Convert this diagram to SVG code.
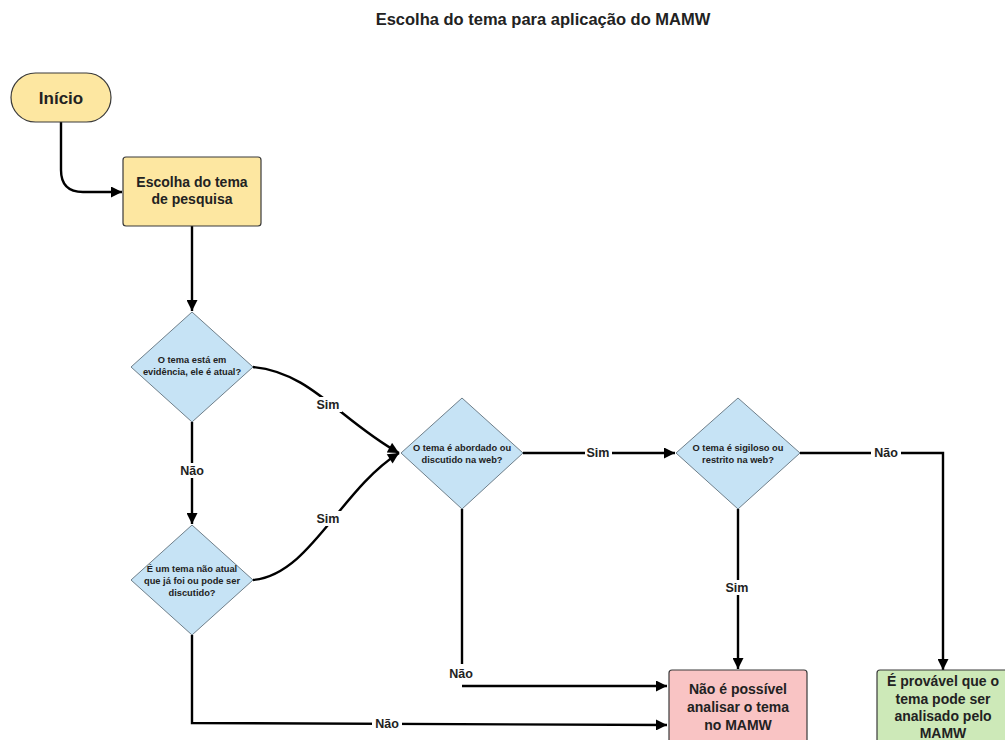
<svg xmlns="http://www.w3.org/2000/svg" width="1005" height="740" viewBox="0 0 1005 740">
<defs>
<style>
text{font-family:"Liberation Sans",Arial,sans-serif;font-weight:bold;fill:#222;text-anchor:middle}
.title{font-size:16.5px}
.big{font-size:17px}
.box{font-size:14px}
.dia{font-size:9.3px}
.lbl{font-size:12.5px}
.yellow{fill:#fde7a1;stroke:#3a3a3a;stroke-width:1.2}
.blue{fill:#c6e3f5;stroke:#6f7f8a;stroke-width:1}
.red{fill:#f9c4c4;stroke:#3a3a3a;stroke-width:1.2}
.green{fill:#cde9b8;stroke:#3a3a3a;stroke-width:1.2}
.edge{fill:none;stroke:#000;stroke-width:2.4}
.lblbg{fill:#fff}
</style>
<marker id="arrL" viewBox="0 0 10 10" refX="10" refY="5" markerWidth="14" markerHeight="11" orient="auto" markerUnits="userSpaceOnUse">
<path d="M0,0 L10,5 L0,10 z" fill="#000"/>
</marker>
</defs>
<rect width="1005" height="740" fill="#fff"/>
<text class="title" x="543" y="25">Escolha do tema para aplicação do MAMW</text>

<g id="connectors">
<path class="edge" d="M61,122 L61,170 Q61,192 83,192 L122,192" marker-end="url(#arrL)"/>
<path class="edge" d="M192,226 L192,311" marker-end="url(#arrL)"/>
<path class="edge" d="M192,422 L192,524" marker-end="url(#arrL)"/>
<path class="edge" d="M253,367 C310,372 340,420 399,453" marker-end="url(#arrL)"/>
<path class="edge" d="M253,580 C310,575 340,490 399,453" marker-end="url(#arrL)"/>
<path class="edge" d="M523,453 L675,453" marker-end="url(#arrL)"/>
<path class="edge" d="M800,453 L943,453 L943,670" marker-end="url(#arrL)"/>
<path class="edge" d="M738,509 L738,669" marker-end="url(#arrL)"/>
<path class="edge" d="M462,509 L462,664"/>
<path class="edge" d="M462,686 L667,686" marker-end="url(#arrL)"/>
<path class="edge" d="M192,635 L192,723 L667,725" marker-end="url(#arrL)"/>
<rect class="lblbg" x="314" y="397" width="28" height="15"/>
<text class="lbl" x="328" y="409">Sim</text>
<rect class="lblbg" x="314" y="511" width="28" height="15"/>
<text class="lbl" x="328" y="523">Sim</text>
<rect class="lblbg" x="177" y="463" width="30" height="15"/>
<text class="lbl" x="192" y="475">Não</text>
<rect class="lblbg" x="585" y="446" width="27" height="14"/>
<text class="lbl" x="598" y="457">Sim</text>
<rect class="lblbg" x="871" y="446" width="30" height="14"/>
<text class="lbl" x="886" y="457">Não</text>
<rect class="lblbg" x="724" y="580" width="28" height="15"/>
<text class="lbl" x="737" y="592">Sim</text>
<text class="lbl" x="461" y="678">Não</text>
<rect class="lblbg" x="372" y="716" width="30" height="14"/>
<text class="lbl" x="387" y="728">Não</text>
</g>

<g id="inicio">
<rect class="yellow" x="11" y="73" width="100" height="49" rx="24.5"/>
<text class="big" x="61" y="104">Início</text>
</g>
<g id="escolha">
<rect class="yellow" x="123" y="157" width="138" height="69" rx="3"/>
<text class="box" x="192" y="187">Escolha do tema</text>
<text class="box" x="192" y="204">de pesquisa</text>
</g>
<g id="d1">
<path class="blue" d="M192,312 L253,367 L192,422 L131,367 Z"/>
<text class="dia" x="192" y="363">O tema  está em</text>
<text class="dia" x="192" y="375">evidência, ele é atual?</text>
</g>
<g id="d2">
<path class="blue" d="M192,525 L253,580 L192,635 L131,580 Z"/>
<text class="dia" x="192" y="572">É um tema não atual</text>
<text class="dia" x="192" y="584">que já foi ou pode ser</text>
<text class="dia" x="192" y="596">discutido?</text>
</g>
<g id="d3">
<path class="blue" d="M462,398 L523,453 L462,509 L401,453 Z"/>
<text class="dia" x="462" y="451">O tema é abordado ou</text>
<text class="dia" x="462" y="463">discutido na web?</text>
</g>
<g id="d4">
<path class="blue" d="M738,398 L800,453 L738,509 L676,453 Z"/>
<text class="dia" x="738" y="451">O tema é sigiloso ou</text>
<text class="dia" x="738" y="463">restrito na web?</text>
</g>
<g id="nao-possivel">
<rect class="red" x="669" y="670" width="138" height="80" rx="3"/>
<text class="box" x="738" y="694">Não é possível</text>
<text class="box" x="738" y="712">analisar o tema</text>
<text class="box" x="738" y="730">no MAMW</text>
</g>
<g id="provavel">
<rect class="green" x="877" y="670" width="138" height="80" rx="3"/>
<text class="box" x="943" y="686">É provável que o</text>
<text class="box" x="943" y="704">tema pode ser</text>
<text class="box" x="943" y="721">analisado pelo</text>
<text class="box" x="943" y="738">MAMW</text>
</g>
</svg>
